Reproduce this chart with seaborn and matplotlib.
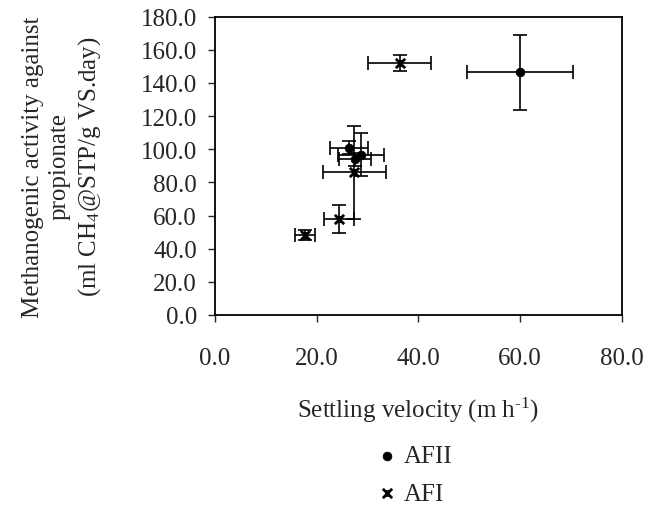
import pandas as pd
import seaborn as sns
import matplotlib.pyplot as plt
from matplotlib.path import Path

# values
afii_x = [60.0, 26.4, 27.5, 28.7]
afii_y = [146.5, 101.0, 94.0, 96.6]
afii_xerr = [10.4, 3.7, 3.2, 4.5]
afii_yerr = [22.7, 4.0, 4.0, 13.0]

afi_x = [36.3, 27.4, 24.4, 17.7]
afi_y = [152.0, 86.0, 58.0, 48.5]
afi_xerr = [6.2, 6.2, 3.0, 2.0]
afi_yerr = [5.0, 28.0, 8.4, 3.0]

x_ticks = [0, 20, 40, 60, 80]
y_ticks = [0, 20, 40, 60, 80, 100, 120, 140, 160, 180]

afii = pd.DataFrame({"x": afii_x, "y": afii_y})
afi = pd.DataFrame({"x": afi_x, "y": afi_y})

# excel-style star: an X with a short upright stroke
star = Path([(-1, -1), (1, 1), (-1, 1), (1, -1), (0, -0.7), (0, 0.7)],
            [Path.MOVETO, Path.LINETO, Path.MOVETO, Path.LINETO, Path.MOVETO, Path.LINETO])

sns.set_style("ticks")
plt.rcParams["font.family"] = ["Liberation Serif", "DejaVu Serif"]
plt.rcParams["mathtext.fontset"] = "custom"
plt.rcParams["mathtext.rm"] = "Liberation Serif"
plt.rcParams["mathtext.it"] = "Liberation Serif"

fig = plt.figure(figsize=(6.46, 5.06), dpi=100)
ax = fig.add_axes([0.3328, 0.3755, 0.6296, 0.5895])

ax.errorbar(afii_x, afii_y, xerr=afii_xerr, yerr=afii_yerr, fmt="none",
            ecolor="black", elinewidth=1.2, capsize=5, capthick=1.2)
ax.errorbar(afi_x, afi_y, xerr=afi_xerr, yerr=afi_yerr, fmt="none",
            ecolor="black", elinewidth=1.2, capsize=5, capthick=1.2)
sns.scatterplot(data=afii, x="x", y="y", ax=ax, color="black", marker="o",
                s=40, edgecolor="black", label="AFII", zorder=3)
sns.scatterplot(data=afi, x="x", y="y", ax=ax, color="black", marker=star,
                s=45, linewidth=2.0, edgecolor="black", label="AFI", zorder=3)

ax.set_xlim(0, 80)
ax.set_ylim(0, 180)
ax.set_xticks(x_ticks)
ax.set_yticks(y_ticks)
ax.set_xticklabels([f"{v:.1f}" for v in x_ticks])
ax.set_yticklabels([f"{v:.1f}" for v in y_ticks])
ax.tick_params(axis="x", direction="out", length=5, width=1, pad=18, labelsize=18)
ax.tick_params(axis="y", direction="out", length=5, width=1, pad=8, labelsize=18)
for s in ax.spines.values():
    s.set_linewidth(1.3)
    s.set_color("black")

ax.set_xlabel(r"Settling velocity (m h$^{\text{-1}}$)", fontsize=18, labelpad=19)
ax.set_ylabel("Methanogenic activity against\npropionate\n(ml CH$_4$@STP/g VS.day)",
              fontsize=18, linespacing=1.28, labelpad=27)

handles, labels = ax.get_legend_handles_labels()
ax.get_legend().remove()
fig.legend(handles, labels, loc="center", bbox_to_anchor=(0.644, 0.06),
           frameon=False, fontsize=18, handlelength=0.6, handletextpad=0.4,
           labelspacing=0.6, borderaxespad=0.2, borderpad=0.1)

fig.savefig("out.png", dpi=100)
